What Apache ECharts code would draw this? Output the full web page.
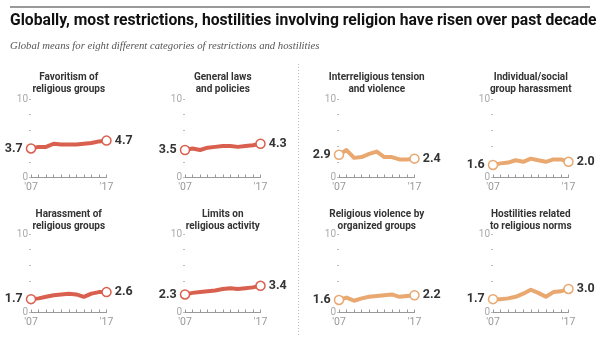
<!DOCTYPE html>
<html><head><meta charset="utf-8">
<script src="https://cdn.jsdelivr.net/npm/echarts@6/dist/echarts.min.js"></script>
<style>html,body{margin:0;padding:0;background:#fff}#c{width:600px;height:337px}</style>
</head><body><div id="c"></div>
<script>
// ---- data ----
const years = ['2007','2008','2009','2010','2011','2012','2013','2014','2015','2016','2017'];
const yearTickLabels = { '2007': "'07", '2017': "'17" };
const yTickLabels = { 0: '0', 10: '10' };
const panelTitles = [
  'Favoritism of\nreligious groups',
  'General laws\nand policies',
  'Interreligious tension\nand violence',
  'Individual/social\ngroup harassment',
  'Harassment of\nreligious groups',
  'Limits on\nreligious activity',
  'Religious violence by\norganized groups',
  'Hostilities related\nto religious norms'
];
const favoritism   = [3.7, 3.9, 3.9, 4.3, 4.2, 4.2, 4.2, 4.3, 4.4, 4.6, 4.7];
const generalLaws  = [3.5, 3.7, 3.5, 3.8, 3.9, 4.0, 4.0, 3.9, 4.0, 4.1, 4.3];
const interTension = [2.9, 3.5, 2.5, 2.6, 3.0, 3.3, 2.6, 2.6, 2.3, 2.3, 2.4];
const individualHar= [1.6, 1.8, 1.9, 2.2, 2.0, 2.4, 2.2, 2.0, 2.3, 2.3, 2.0];
const harassment   = [1.7, 1.8, 2.0, 2.2, 2.3, 2.4, 2.3, 2.0, 2.4, 2.6, 2.6];
const limits       = [2.3, 2.5, 2.6, 2.7, 2.8, 3.0, 3.1, 3.0, 3.1, 3.2, 3.4];
const relViolence  = [1.6, 1.9, 1.5, 1.8, 2.0, 2.1, 2.2, 2.3, 2.0, 2.1, 2.2];
const normsHost    = [1.7, 1.7, 1.8, 2.0, 2.4, 2.9, 2.5, 2.0, 2.6, 2.7, 3.0];
const panelSeries = [favoritism, generalLaws, interTension, individualHar, harassment, limits, relViolence, normsHost];
const panelKind = ['restriction','restriction','hostility','hostility','restriction','restriction','hostility','hostility'];

// ---- style ----
const COLORS = { restriction: '#d9604f', hostility: '#e9a870' };
const colLefts = [31, 185, 339, 493];
const rowTops = [99, 234];
const plotW = 75.5, plotH = 78.5;
const titleTops = [71, 208];

const chart = echarts.init(document.getElementById('c'), null, { renderer: 'canvas' });
const grid = [], xAxis = [], yAxis = [], series = [], title = [];

title.push({
  text: 'Globally, most restrictions, hostilities involving religion have risen over past decade',
  left: 10, top: 13, padding: 0,
  textStyle: { fontFamily: 'Roboto', fontWeight: 'bold', fontSize: 15.7, color: '#111' }
});
title.push({
  text: 'Global means for eight different categories of restrictions and hostilities',
  left: 10, top: 41, padding: 0,
  textStyle: { fontFamily: 'Liberation Serif', fontStyle: 'italic', fontWeight: 'normal', fontSize: 10.7, color: '#555' }
});

panelSeries.forEach((vals, i) => {
  const col = i % 4, row = Math.floor(i / 4);
  const color = COLORS[panelKind[i]];
  grid.push({ left: colLefts[col], top: rowTops[row], width: plotW, height: plotH });
  title.push({
    text: panelTitles[i], padding: 0,
    left: colLefts[col] + plotW / 2, top: titleTops[row], textAlign: 'center',
    textStyle: { fontFamily: 'Roboto', fontWeight: 'bold', fontSize: 10, color: '#333', lineHeight: 12 }
  });
  xAxis.push({
    type: 'category', gridIndex: i, data: years, boundaryGap: false,
    axisLine: { show: true, lineStyle: { color: '#999', width: 1 } },
    axisTick: { show: true, inside: true, length: 3, interval: 0, lineStyle: { color: '#999' } },
    axisLabel: {
      interval: 0, margin: 4, color: '#999', fontFamily: 'Roboto', fontSize: 10.5,
      formatter: v => yearTickLabels[v] || ''
    },
    splitLine: { show: false }
  });
  yAxis.push({
    type: 'value', gridIndex: i, min: 0, max: 10, interval: 2,
    axisLine: { show: false },
    axisTick: { show: true, length: 2, lineStyle: { color: '#bbb' } },
    axisLabel: { margin: 3, color: '#aaa', fontFamily: 'Roboto', fontSize: 10,
      formatter: v => (yTickLabels[v] !== undefined ? yTickLabels[v] : '') },
    splitLine: { show: false }
  });
  const last = vals.length - 1;
  series.push({
    type: 'line', xAxisIndex: i, yAxisIndex: i,
    data: vals.map((v, k) => {
      if (k === 0 || k === last) {
        return {
          value: v, symbol: 'circle', symbolSize: 9,
          label: { show: true, position: k === 0 ? 'left' : 'right', distance: 3,
            formatter: p => p.value.toFixed(1),
            fontFamily: 'Roboto', fontWeight: 'bold', fontSize: 12.5, color: '#333' }
        };
      }
      return { value: v, symbol: 'none', symbolSize: 0 };
    }),
    showAllSymbol: true,
    lineStyle: { color: color, width: 4, cap: 'round', join: 'round' },
    itemStyle: { color: '#fff', borderColor: color, borderWidth: 1.5 },
    z: 3, animation: false, silent: true
  });
});

chart.setOption({
  animation: false,
  title, grid, xAxis, yAxis, series,
  graphic: [
    { type: 'line', shape: { x1: 10, y1: 7, x2: 590, y2: 7 }, style: { stroke: '#999', lineWidth: 2 } },
    { type: 'line', shape: { x1: 298.5, y1: 64, x2: 298.5, y2: 337 }, style: { stroke: '#bbb', lineWidth: 1, lineDash: [1, 2] } }
  ]
});
</script>
</body></html>
